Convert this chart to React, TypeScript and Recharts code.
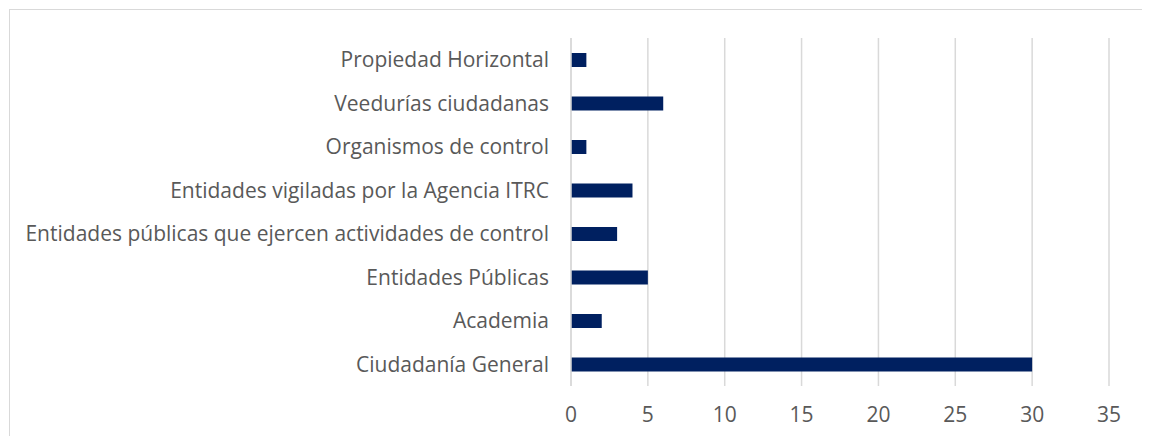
import React from "react";
import { Bar, BarChart, CartesianGrid, XAxis, YAxis } from "recharts";

const categories = [
  "Propiedad Horizontal",
  "Veedurías ciudadanas",
  "Organismos de control",
  "Entidades vigiladas por la Agencia ITRC",
  "Entidades públicas que ejercen actividades de control",
  "Entidades Públicas",
  "Academia",
  "Ciudadanía General",
];
const values = [1, 6, 1, 4, 3, 5, 2, 30];
const xTicks = [0, 5, 10, 15, 20, 25, 30, 35];

const data = categories.map((name, i) => ({ name, value: values[i] }));

const textColor = "#595959";
const gridColor = "#d9d9d9";
const barColor = "#002060";
const fontFamily = "'Open Sans', sans-serif";

export default function App() {
  return (
    <div
      style={{
        position: "relative",
        width: 1134,
        height: 428,
        overflow: "hidden",
        fontFamily,
      }}
    >
      {/* chart frame, only top and left edges fall inside the picture */}
      <div
        style={{
          position: "absolute",
          left: 1,
          top: 1,
          width: 1300,
          height: 600,
          border: `1px solid ${gridColor}`,
        }}
      />
      <BarChart
        width={1134}
        height={428}
        data={data}
        layout="vertical"
        margin={{ top: 30, right: 33, bottom: 0, left: 0 }}
        barSize={14}
      >
        <CartesianGrid horizontal={false} stroke={gridColor} strokeWidth={1.5} />
        <XAxis
          type="number"
          domain={[0, 35]}
          ticks={xTicks}
          interval={0}
          axisLine={false}
          tickLine={false}
          tickSize={0}
          tickMargin={21}
          height={50}
          tick={{ fill: textColor, fontSize: 21, fontFamily }}
        />
        <YAxis
          type="category"
          dataKey="name"
          width={563}
          axisLine={{ stroke: gridColor, strokeWidth: 1.5 }}
          tickLine={false}
          tickSize={0}
          tickMargin={22}
          interval={0}
          tick={{ fill: textColor, fontSize: 21, fontFamily }}
        />
        <Bar dataKey="value" fill={barColor} isAnimationActive={false} />
      </BarChart>
    </div>
  );
}
